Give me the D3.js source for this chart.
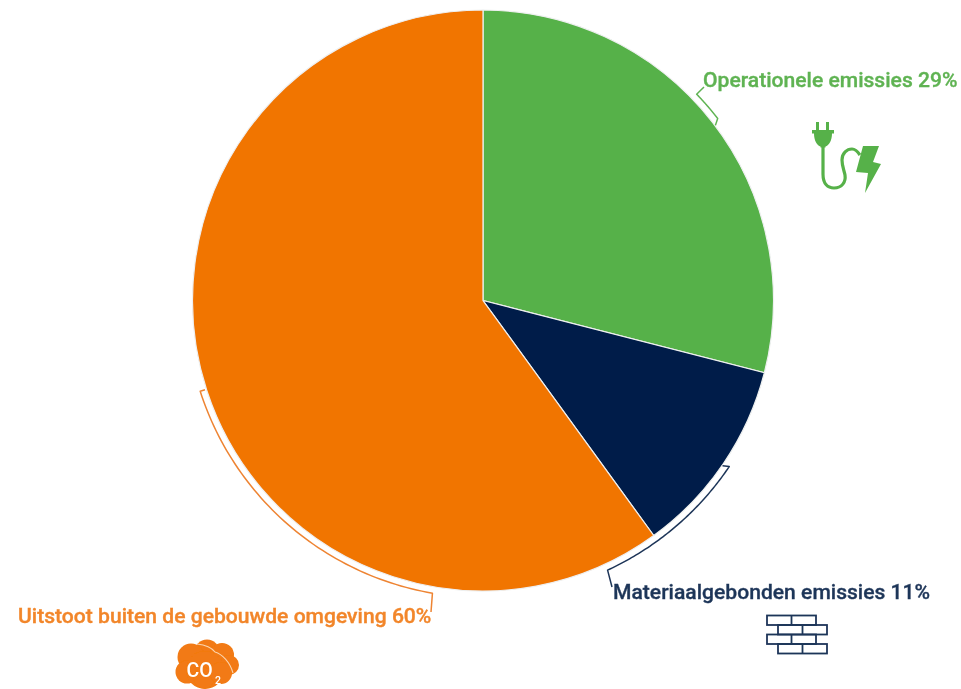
<!DOCTYPE html>
<html><head><meta charset="utf-8">
<script src="https://cdn.jsdelivr.net/npm/d3@7"></script>
<style>html,body{margin:0;padding:0;background:#fff}svg{display:block}text{font-family:Roboto,sans-serif;font-weight:500}</style>
</head><body><svg id="c" width="961" height="689"></svg>
<script>
const categories = ["Operationele emissies", "Materiaalgebonden emissies", "Uitstoot buiten de gebouwde omgeving"];
const values = [29, 11, 60];
const colors = ["#57b148", "#021f48", "#f17405"];
const labelColors = ["#5fb352", "#1f3659", "#f2862a"];
const labelX = [703, 613, 18];
const labelY = [87, 599, 623];

const svg = d3.select("#c");
svg.append("defs").append("filter").attr("id","soft").attr("filterUnits","userSpaceOnUse")
  .attr("x",0).attr("y",0).attr("width",961).attr("height",689)
  .append("feGaussianBlur").attr("stdDeviation",0.7);
const root = svg.append("g").attr("filter","url(#soft)");
const cx = 483, cy = 300.5, R = 290.5;
const g = root.append("g").attr("transform", `translate(${cx},${cy})`);
const pie = d3.pie().sort(null).value(d => d);
const arcs = pie(values);
const arc = d3.arc().innerRadius(0).outerRadius(R);

g.selectAll("path.slice").data(arcs).join("path").attr("class","slice")
  .attr("d", arc).attr("fill", (d,i)=>colors[i])
  .attr("stroke", "#eef0f0").attr("stroke-width", 1.2);

// Brackets along the rim, in degrees clockwise from 12 o'clock
const pt = (deg, r) => [r*Math.sin(deg*Math.PI/180), -r*Math.cos(deg*Math.PI/180)];
const line = d3.line();
function bracket(a0, a1, r, head, tail, col){
  const n = 60, pts = d3.range(n+1).map(i => pt(a0 + (a1-a0)*i/n, r));
  g.append("path").attr("d", line([head, ...pts, tail])).attr("fill","none")
   .attr("stroke", col).attr("stroke-width", 1.5).attr("stroke-linejoin","round");
}
bracket(52.2, 46.0, 297, pt(53, 291), [704-cx, 87-cy], "#5fb352");
bracket(124.0, 155.2, 297, pt(124.6, 291), [612-cx, 587-cy], "#1f3659");
bracket(252.2, 189.8, 297, pt(252.2, 292), [431-cx, 612-cy], "#ee8433");

labelX.forEach((x,i)=>{
  root.append("text").attr("x",x).attr("y",labelY[i]).attr("fill",labelColors[i])
    .attr("stroke",labelColors[i]).attr("stroke-width",0.35)
    .attr("font-size",21.1).text(`${categories[i]} ${values[i]}%`);
});

// plug icon
const ic = root.append("g").attr("fill", colors[0]);
ic.append("path").attr("d","M816,122h3v9h-3zM826,122h3v9h-3zM812,130h22v3.5h-2c0,7-3,12-6.5,13v1h-5v-1c-3.5-1-6.5-6-6.5-13h-2z");
ic.append("path").attr("fill","none").attr("stroke",colors[0]).attr("stroke-width",3.2)
  .attr("d","M823,146V174C823,184 828,188 834,188C842,188 846,182 845,175C844,170 842,166 842,160C842,153 847,149 852,149C856,149 858,152 860,155");
ic.append("path").attr("d","M863,146H879L873,162L881,164L865,193L868,173L856,172z");

// brick icon
const bricks = root.append("g").attr("fill","none").attr("stroke","#1f3659").attr("stroke-width",1.8);
[[767,615.5],[778,625],[767,634.5],[778,644]].forEach(([x,y])=>{
  bricks.append("rect").attr("x",x).attr("y",y).attr("width",49).attr("height",9.5);
  bricks.append("line").attr("x1",x+24.5).attr("x2",x+24.5).attr("y1",y).attr("y2",y+9.5);
});

// CO2 cloud icon
const cloud = root.append("g").attr("fill","#f27a12");
[[207,652,12.5],[191,657,13.5],[222,655,12],[229,665,10],[187,672,11.5],[205,670,19],[204,678,10.5],[221,673,11]]
  .forEach(([x,y,r])=>cloud.append("circle").attr("cx",x).attr("cy",y).attr("r",r));
root.append("path").attr("fill","none").attr("stroke","#fbd3ae").attr("stroke-width",1.1)
  .attr("d","M197,644C206,645 212,648 215,652C222,654 230,662 233,673");
root.append("text").attr("x",186.5).attr("y",677).attr("fill","#fff").attr("font-size",19.5).text("CO");
root.append("text").attr("x",215).attr("y",684).attr("fill","#fff").attr("font-size",10.5).text("2");
</script></body></html>
